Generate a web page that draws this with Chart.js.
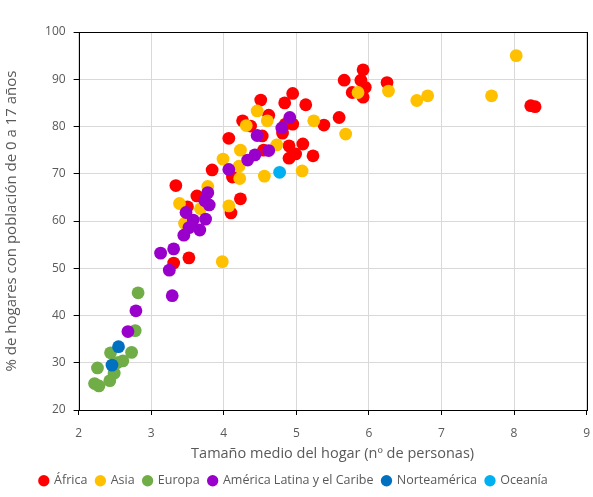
<!DOCTYPE html>
<html>
<head>
<meta charset="utf-8">
<script src="https://cdn.jsdelivr.net/npm/chart.js@4"></script>
<style>
html,body{margin:0;padding:0;background:#fff;}
#wrap{width:593px;height:497px;position:relative;}
</style>
</head>
<body>
<div id="wrap"><canvas id="c" width="593" height="497"></canvas></div>
<script>
const seriesNames = ["África", "Asia", "Europa", "América Latina y el Caribe", "Norteamérica", "Oceanía"];
const seriesColors = ["#FF0000", "#FFC000", "#70AD47", "#9900CC", "#0070C0", "#00B0F0"];

const africaX = [3.34,3.63,3.50,4.23,4.10,3.84,4.12,3.52,3.31,4.07,4.51,4.84,4.95,5.13,4.26,4.37,4.62,4.85,4.95,4.81,4.53,5.38,4.55,4.90,5.09,4.99,4.90,5.23,5.59,5.92,5.66,5.89,5.95,5.77,5.92,6.25,8.23,8.29];
const africaY = [67.5,65.3,63.0,64.7,61.7,70.8,69.3,52.2,51.1,77.5,85.6,85.0,87.0,84.6,81.2,80.1,82.4,80.5,80.5,78.6,78.0,80.3,75.0,75.9,76.3,74.2,73.3,73.8,81.9,92.0,89.8,89.8,88.3,87.2,86.2,89.3,84.4,84.2];

const asiaX = [8.03,6.27,6.66,6.81,7.69,5.85,5.68,5.24,5.08,4.46,4.31,4.60,4.73,4.23,3.99,4.21,4.22,4.56,3.78,3.39,3.68,4.07,3.98,3.46];
const asiaY = [95.0,87.5,85.5,86.5,86.5,87.2,78.4,81.2,70.6,83.3,80.2,81.2,76.1,75.0,73.1,71.6,69.0,69.5,67.3,63.7,62.6,63.2,51.4,59.5];

const europeX = [2.82,2.78,2.73,2.61,2.44,2.49,2.26,2.22,2.28,2.43,2.53];
const europeY = [44.8,36.8,32.2,30.4,32.1,27.8,28.9,25.6,25.1,26.2,30.0];

const latamX = [3.13,3.31,3.25,3.29,2.79,2.68,3.45,3.67,3.52,3.58,3.75,3.48,3.80,3.78,3.74,4.07,4.33,4.43,4.62,4.46,4.80,4.91];
const latamY = [53.2,54.1,49.6,44.2,41.0,36.6,57.0,58.1,58.6,60.2,60.4,61.8,63.4,66.0,64.3,70.9,72.9,74.0,74.9,78.1,79.7,81.9];

const namericaX = [2.55,2.46];
const namericaY = [33.4,29.5];

const oceaniaX = [4.77];
const oceaniaY = [70.3];

const xTicks = [2,3,4,5,6,7,8,9];
const yTicks = [20,30,40,50,60,70,80,90,100];

const xTitle = "Tamaño medio del hogar (nº de personas)";
const yTitle = "% de hogares con población de 0 a 17 años";

function pts(xs, ys){ return xs.map((x,i)=>({x:x, y:ys[i]})); }
const allX = [africaX, asiaX, europeX, latamX, namericaX, oceaniaX];
const allY = [africaY, asiaY, europeY, latamY, namericaY, oceaniaY];

const FONT = "'Open Sans', 'Noto Sans', sans-serif";
const TXT = "#595959";

const datasets = seriesNames.map((n,i)=>({
  label: n,
  data: pts(allX[i], allY[i]),
  backgroundColor: seriesColors[i],
  borderColor: seriesColors[i],
  borderWidth: 0,
  pointRadius: 6.4,
  pointHoverRadius: 6.4,
  pointStyle: 'circle',
  order: seriesNames.length - i
}));

const boxPlugin = {
  id: 'box',
  afterDatasetsDraw(chart){
    const a = chart.chartArea, ctx = chart.ctx;
    ctx.save();
    ctx.strokeStyle = '#000';
    ctx.lineWidth = 1;
    ctx.strokeRect(Math.round(a.left)+0.5, Math.round(a.top)+0.5, Math.round(a.right-a.left), Math.round(a.bottom-a.top));
    ctx.restore();
  }
};

new Chart(document.getElementById('c'), {
  type: 'scatter',
  data: { datasets },
  plugins: [boxPlugin],
  options: {
    responsive: false,
    animation: false,
    devicePixelRatio: 1,
    layout: { padding: { top: 32, right: 5.5, left: 0, bottom: 0 } },
    plugins: {
      tooltip: { enabled: false },
      legend: {
        position: 'bottom',
        labels: {
          usePointStyle: true,
          pointStyle: 'circle',
          boxWidth: 8,
          boxHeight: 8,
          padding: 9,
          color: TXT,
          font: { family: FONT, size: 12.5 },
          sort: (a,b) => a.datasetIndex - b.datasetIndex
        }
      }
    },
    scales: {
      x: {
        type: 'linear',
        min: 2, max: 9,
        afterBuildTicks(s){ s.ticks = xTicks.map(v=>({value:v})); },
        afterFit(s){
          s.height = 497 - 410 - (s.chart.legend ? s.chart.legend.height : 30);
          s.paddingRight = 0; s.paddingLeft = 0;
        },
        grid: { color: '#D9D9D9', tickColor: '#000', tickLength: 5, drawTicks: true },
        border: { display: false },
        ticks: { color: TXT, padding: 11, font: { family: FONT, size: 12 }, maxRotation: 0 },
        title: { display: true, text: xTitle, color: TXT, font: { family: FONT, size: 14.5 }, padding: { top: 3, bottom: 3 } }
      },
      y: {
        type: 'linear',
        min: 20, max: 100,
        afterBuildTicks(s){ s.ticks = yTicks.map(v=>({value:v})); },
        afterFit(s){ s.width = 78.6; s.paddingTop = 0; s.paddingBottom = 0; },
        grid: { color: '#D9D9D9', tickColor: '#000', tickLength: 5, drawTicks: true },
        border: { display: false },
        ticks: { color: TXT, padding: 8, font: { family: FONT, size: 12 } },
        title: { display: true, text: yTitle, color: TXT, font: { family: FONT, size: 15 }, padding: { top: 3, bottom: 3 } }
      }
    }
  }
});
</script>
</body>
</html>
